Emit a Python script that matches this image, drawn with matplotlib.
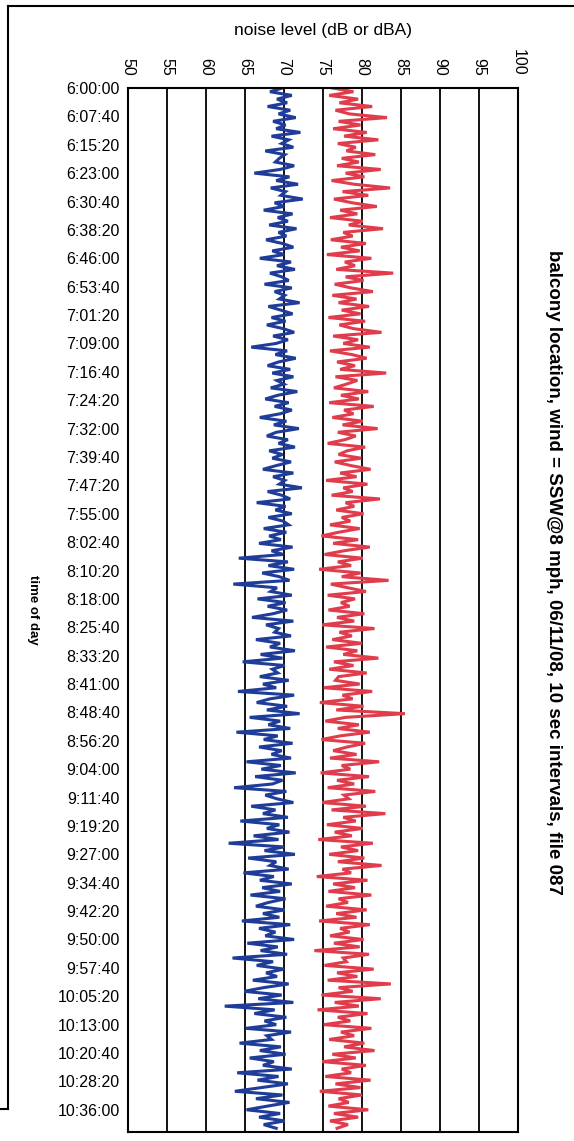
import matplotlib
matplotlib.use("Agg")
from matplotlib import pyplot as plt
from matplotlib.lines import Line2D
import numpy as np

plt.rcParams['font.family'] = ['Liberation Sans', 'DejaVu Sans']

# one reading per minute (dBA = blue, dB = red)
dba = [
    69.8, 68.2, 71.0, 69.1, 70.4, 67.9, 70.8, 69.3, 71.5, 68.6, 70.2, 69.0, 72.1, 68.4, 70.6, 69.7, 71.2, 67.6, 70.1, 69.4,
    68.9, 71.3, 69.5, 66.2, 70.7, 69.0, 71.8, 68.3, 70.2, 69.6, 72.4, 68.8, 70.0, 67.4, 71.1, 69.2, 70.5, 68.1, 71.6, 69.3,
    70.3, 67.7, 69.8, 71.2, 68.5, 70.0, 66.9, 70.9, 69.1, 71.4, 68.2, 69.7, 70.6, 67.5, 71.0, 68.8, 70.1, 69.4, 72.0, 68.0,
    69.6, 71.1, 68.4, 70.2, 67.8, 69.9, 71.3, 68.6, 70.5, 69.0, 65.8, 70.4, 68.9, 71.5, 69.3, 67.9, 70.8, 68.5, 71.2, 69.1,
    70.0, 68.3, 71.7, 69.2, 67.6, 70.6, 68.8, 71.0, 69.5, 66.9, 70.3, 68.7, 71.9, 69.0, 67.8, 70.5, 69.3, 71.4, 68.1, 69.8,
    68.5, 70.9, 69.0, 67.3, 71.2, 68.6, 70.1, 69.4, 72.3, 67.9, 69.7, 70.8, 66.5, 70.2, 68.9, 71.0, 68.0, 69.9, 70.6, 67.4,
    70.3, 68.1, 69.6, 66.8, 71.1, 68.4, 69.9, 64.2, 70.5, 68.0, 71.3, 67.2, 69.4, 70.7, 63.5, 69.1, 68.3, 71.0, 66.6, 70.2,
    67.9, 70.4, 68.6, 65.9, 71.2, 67.7, 69.3, 68.8, 70.9, 66.4, 69.5, 68.2, 71.4, 67.0, 69.8, 64.7, 70.1, 68.5, 69.2, 66.9,
    70.6, 67.3, 69.0, 64.1, 71.3, 68.2, 66.5, 70.4, 67.8, 72.0, 65.6, 69.5, 68.0, 70.8, 63.9, 69.2, 67.4, 71.1, 66.8, 69.7,
    68.4, 70.9, 65.2, 69.6, 67.1, 71.5, 66.3, 69.8, 68.5, 63.6, 70.3, 67.6, 69.1, 71.2, 65.8, 68.9, 67.3, 70.5, 64.4, 69.4,
    67.8, 70.7, 66.1, 69.3, 62.9, 70.0, 67.5, 71.4, 65.4, 69.0, 68.2, 70.6, 64.8, 68.7, 66.9, 71.0, 67.2, 69.5, 65.7, 70.2,
    68.0, 66.4, 70.1, 67.3, 69.4, 64.6, 70.8, 66.8, 68.9, 67.6, 71.3, 65.3, 69.2, 67.0, 70.4, 63.4, 68.6, 66.5, 70.0, 67.7,
    69.1, 66.0, 70.6, 67.4, 64.9, 69.7, 66.7, 71.2, 62.4, 68.8, 66.2, 70.3, 67.5, 69.0, 65.1, 70.9, 67.8, 68.4, 64.3, 69.6,
    66.9, 70.2, 65.6, 68.7, 67.3, 71.0, 64.0, 69.3, 66.6, 70.5, 67.1, 63.7, 69.8, 66.4, 70.7, 67.9, 65.2, 69.5, 66.8, 70.1,
    67.4, 69.0,
]
db = [
    76.2, 78.9, 75.8, 79.5, 77.1, 81.3, 76.6, 78.4, 83.2, 77.0, 79.8, 76.3, 80.6, 77.7, 82.1, 76.9, 79.2, 78.0, 81.7, 77.4,
    79.6, 76.8, 82.4, 77.9, 80.3, 76.1, 79.0, 83.6, 77.5, 80.8, 76.4, 78.7, 81.9, 77.2, 79.4, 75.9, 80.1, 78.3, 82.7, 77.6,
    78.8, 76.0, 80.5, 77.3, 79.7, 75.5, 81.2, 77.8, 79.1, 76.7, 84.0, 77.9, 80.2, 76.5, 78.6, 81.4, 76.2, 79.3, 77.0, 80.9,
    77.4, 79.8, 75.7, 80.4, 77.1, 78.9, 82.5, 76.3, 79.5, 77.6, 81.0, 75.9, 78.7, 80.6, 76.8, 79.1, 77.2, 83.1, 76.6, 79.4,
    78.0, 76.4, 80.8, 77.3, 79.6, 75.8, 81.5, 77.7, 78.9, 76.2, 80.1, 77.5, 82.0, 76.9, 79.2, 77.8, 75.6, 80.4, 78.1, 77.0,
    79.9, 76.5, 78.6, 81.1, 77.2, 79.3, 75.4, 80.7, 77.6, 78.8, 76.1, 82.3, 77.9, 79.0, 76.7, 80.2, 77.4, 78.5, 75.9, 79.7,
    77.0, 74.8, 79.5, 76.3, 81.0, 77.7, 75.2, 80.1, 76.9, 78.6, 74.5, 79.8, 77.4, 83.4, 76.0, 78.2, 80.5, 75.6, 79.1, 77.3,
    78.4, 75.7, 80.3, 76.8, 79.0, 74.9, 81.6, 77.1, 78.7, 76.2, 80.0, 75.4, 79.4, 77.6, 82.1, 76.4, 78.9, 75.8, 80.6, 77.0,
    76.6, 79.7, 75.1, 81.3, 77.5, 78.8, 74.6, 80.2, 76.7, 85.5, 77.9, 75.3, 79.6, 76.9, 81.0, 77.2, 74.8, 80.4, 78.1, 76.3,
    79.3, 75.9, 82.2, 77.4, 78.5, 74.7, 80.9, 76.8, 79.0, 75.6, 81.7, 77.7, 78.3, 74.9, 80.5, 76.1, 83.0, 77.6, 79.2, 75.5,
    80.1, 76.5, 78.7, 74.4, 81.4, 77.3, 79.5, 75.8, 80.3, 76.9, 82.5, 77.5, 78.6, 74.2, 80.7, 76.3, 79.1, 75.7, 81.2, 77.0,
    78.2, 75.4, 80.6, 76.7, 79.3, 74.5, 81.0, 77.2, 78.4, 75.9, 80.2, 76.4, 79.7, 73.9, 80.9, 77.6, 78.0, 75.2, 81.5, 76.8,
    79.4, 75.6, 83.7, 77.0, 78.8, 74.8, 82.4, 76.5, 79.6, 74.3, 80.7, 76.9, 78.5, 75.1, 81.2, 77.3, 79.0, 75.8, 80.3, 77.7,
    81.6, 76.2, 79.2, 74.9, 80.5, 77.4, 78.6, 75.3, 81.1, 76.6, 79.8, 74.6, 80.0, 77.0, 78.3, 75.7, 80.8, 76.4, 79.5, 75.9,
    78.2, 76.8,
]
time_labels = [
    "6:00:00", "6:07:40", "6:15:20", "6:23:00", "6:30:40", "6:38:20", "6:46:00", "6:53:40",
    "7:01:20", "7:09:00", "7:16:40", "7:24:20", "7:32:00", "7:39:40", "7:47:20", "7:55:00",
    "8:02:40", "8:10:20", "8:18:00", "8:25:40", "8:33:20", "8:41:00", "8:48:40", "8:56:20",
    "9:04:00", "9:11:40", "9:19:20", "9:27:00", "9:34:40", "9:42:20", "9:50:00", "9:57:40",
    "10:05:20", "10:13:00", "10:20:40", "10:28:20", "10:36:00",
]
level_ticks = [50, 55, 60, 65, 70, 75, 80, 85, 90, 95, 100]

secs = np.arange(len(dba)) * 60          # seconds after 6:00:00
tick_secs = np.arange(len(time_labels)) * 460

W, H = 574, 1141
fig = plt.figure(figsize=(W / 100, H / 100), dpi=100)
ax = fig.add_axes([128 / W, 1 - 1132 / H, 390 / W, 1044 / H])

ax.plot(dba, secs, color='#1f3d98', lw=2.2, solid_joinstyle='miter')
ax.plot(db, secs, color='#e03c4b', lw=2.2, solid_joinstyle='miter')

ax.set_xlim(50, 100)
ax.set_ylim(len(dba) * 60, 0)
ax.set_xticks(level_ticks)
ax.xaxis.tick_top()
ax.set_xticklabels([str(v) for v in level_ticks], rotation=-90, ha='center', va='bottom',
                   fontsize=11.5)
ax.set_yticks(tick_secs)
ax.set_yticklabels(time_labels, fontsize=11.5)
ax.tick_params(axis='both', length=0)
ax.tick_params(axis='x', pad=9)
ax.tick_params(axis='y', pad=6)
ax.grid(axis='x', color='black', lw=1.3)
ax.set_axisbelow(True)
for s in ax.spines.values():
    s.set_color('black')
    s.set_linewidth(1.5)

fig.text(323 / W, 1 - 30 / H, "noise level (dB or dBA)", ha='center', va='center', fontsize=12.5)
fig.text(33 / W, 1 - 610 / H, "time of day", rotation=-90, ha='center', va='center',
         fontsize=9.5, fontweight='bold')
fig.text(553 / W, 1 - 572 / H,
         "balcony location, wind = SSW@8 mph, 06/11/08, 10 sec intervals, file 087",
         rotation=-90, ha='center', va='center', fontsize=13.5, fontweight='bold')

# scanned outer box
fig.add_artist(Line2D([8 / W, 1], [1 - 6 / H, 1 - 6 / H], color='black', lw=1.5))
fig.add_artist(Line2D([8 / W, 8 / W], [1 - 6 / H, 1 - 1109 / H], color='black', lw=1.5))
fig.add_artist(Line2D([0, 8 / W], [1 - 1109 / H, 1 - 1109 / H], color='black', lw=1.5))

plt.savefig('out.png', dpi=100)
